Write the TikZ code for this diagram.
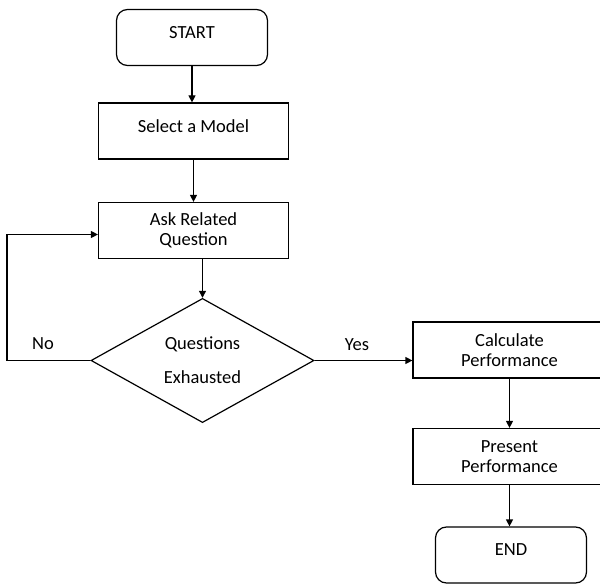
\documentclass[tikz,border=0pt]{standalone}
\usepackage{fontspec}
\setmainfont{Carlito}
\usetikzlibrary{shapes.geometric,arrows.meta}
\begin{document}
\begin{tikzpicture}[x=1pt,y=-1pt,line width=1.2pt,
    every node/.style={font=\fontsize{18.5}{20}\selectfont},
    box/.style={draw, rectangle, minimum width=#1, minimum height=56pt, align=center, inner sep=0pt},
    box/.default=190pt,
    term/.style={box=151pt, rounded corners=11pt},
    raised/.style={text depth=10pt},
    decision/.style={draw, diamond, minimum width=223pt, minimum height=123pt, align=center, inner sep=0pt},
    arr/.style={-{Triangle[length=7pt,width=7pt]}}]
    \clip (0,0) rectangle (600,585);
    \node[term, raised] (start) at (192,37.5) {START};
    \node[box, raised] (select) at (193.5,131) {Select a Model};
    \node[box] (ask) at (193.5,230.5) {Ask Related\\Question};
    \node[decision] (exh) at (202.5,360.5) {Questions\\[14pt]Exhausted};
    \node[box=193pt] (calc) at (509.5,350) {Calculate\\Performance};
    \node[box=193pt] (pres) at (509.5,456.5) {Present\\Performance};
    \node[term, raised] (end) at (511,555) {END};
    \node (no) at (43,344) {No};
    \node (yes) at (357,345) {Yes};
    \coordinate (corner) at (7,360.5);
    % main flow
    \draw[arr] (start.south) -- (start.south |- select.north);
    \draw[arr] (select) -- (ask);
    \draw[arr] (exh.north |- ask.south) -- (exh.north);
    \draw[arr] (exh.west) -- (corner) |- ([yshift=-4pt]ask.west);
    \draw[arr] (exh.east) -- (calc.west |- exh.east);
    \draw[arr] (calc) -- (pres);
    \draw[arr] (pres.south) -- (pres.south |- end.north);
\end{tikzpicture}
\end{document}
